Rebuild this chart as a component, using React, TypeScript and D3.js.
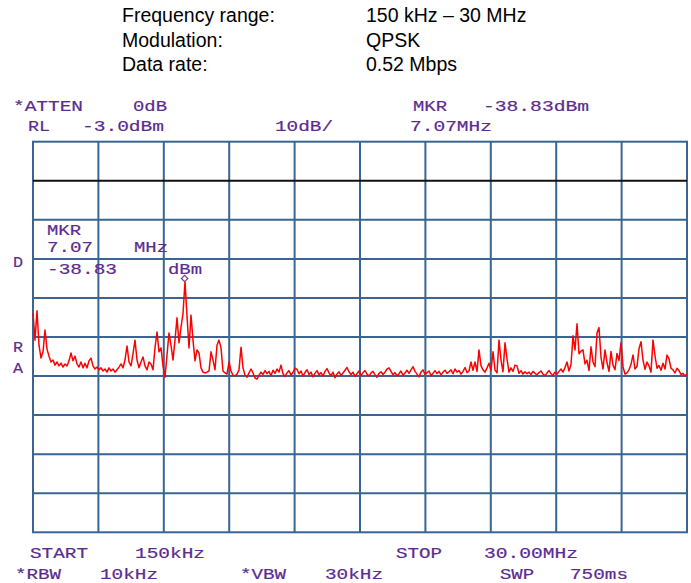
import React from "react";
import * as d3 from "d3";

// Sweep settings
const START_MHZ = 0.15;
const STOP_MHZ = 30;
const REF_LEVEL_DBM = -3;
const DB_PER_DIV = 10;
const DIVISIONS = 10;
const DISPLAY_LINE_DBM = -13;

// Marker readout
const MARKER_MHZ = 7.07;
const MARKER_DBM = -38.83;

// Header description lines
const infoLabels = ["Frequency range:", "Modulation:", "Data rate:"];
const infoValues = ["150 kHz \u2013 30 MHz", "QPSK", "0.52 Mbps"];

// Trace points (dBm), evenly spaced from START to STOP
const traceDbm = [
  -46.9, -53.8, -46.3, -55.1, -58.4, -56.8, -51.2, -56.1, -57.9, -59.4,
  -58.9, -60.2, -59.4, -60.4, -59.7, -60.7, -59.9, -60.4, -59.1, -57.1,
  -59.1, -57.9, -59.9, -60.7, -59.4, -60.9, -59.7, -60.9, -59.1, -58.4,
  -60.4, -61.2, -60.7, -61.4, -60.9, -61.7, -61.2, -62.0, -60.9, -61.7,
  -61.2, -62.0, -61.4, -60.7, -59.9, -60.9, -58.9, -55.3, -59.4, -60.4,
  -57.3, -53.8, -58.9, -60.9, -59.4, -58.1, -60.4, -61.4, -59.4, -59.9,
  -61.4, -55.8, -51.7, -56.8, -55.8, -60.4, -63.3, -57.6, -52.0, -55.1,
  -58.9, -53.8, -48.1, -54.5, -50.5, -47.0, -38.83, -47.6, -55.8, -47.4,
  -53.8, -59.1, -56.3, -57.1, -60.9, -62.0, -62.2, -62.0, -61.7, -56.8,
  -58.9, -61.4, -55.1, -53.8, -55.8, -61.7, -62.2, -62.5, -59.4, -61.7,
  -62.8, -63.0, -62.5, -61.4, -55.6, -60.9, -62.8, -63.3, -62.2, -61.2,
  -62.2, -63.5, -63.8, -62.8, -62.0, -62.6, -61.6, -62.4, -61.8, -62.9,
  -61.5, -62.3, -61.2, -62.0, -60.2, -62.4, -63.1, -62.2, -61.6, -62.8,
  -62.0, -61.0, -61.3, -62.4, -61.7, -63.0, -62.1, -61.4, -62.6, -62.0,
  -63.2, -62.3, -61.6, -62.7, -62.1, -63.0, -61.8, -61.1, -62.2, -62.9,
  -62.0, -63.4, -62.5, -61.9, -62.8, -62.2, -61.5, -60.8, -61.9, -62.6,
  -62.0, -63.1, -62.4, -61.7, -62.9, -62.1, -61.6, -62.5, -63.0, -62.2,
  -61.8, -62.7, -63.3, -62.3, -61.9, -62.6, -62.0, -61.2, -60.9, -61.8,
  -62.7, -62.1, -63.0, -62.4, -61.7, -62.8, -62.2, -61.5, -62.3, -61.4,
  -60.6, -61.8, -62.5, -63.2, -62.0, -61.4, -62.6, -62.1, -61.7, -62.9,
  -62.3, -61.6, -62.4, -61.8, -62.7, -62.0, -61.5, -62.3, -61.9, -61.4,
  -62.4, -61.2, -62.0, -61.6, -62.5, -61.8, -60.8, -62.1, -61.7, -59.4,
  -61.5, -59.4, -61.8, -56.3, -60.4, -61.4, -62.0, -60.9, -59.7, -61.5,
  -56.8, -61.4, -62.2, -53.8, -58.9, -61.9, -54.5, -58.6, -62.0, -60.9,
  -61.8, -60.2, -60.4, -62.3, -61.6, -62.5, -61.9, -62.4, -62.0, -62.6,
  -61.8, -62.3, -62.7, -62.1, -61.7, -62.5, -62.9, -62.2, -61.6, -62.4,
  -62.8, -62.0, -62.5, -61.8, -61.2, -62.0, -60.8, -59.4, -61.7, -60.1,
  -52.7, -56.3, -49.6, -57.3, -56.6, -56.3, -59.9, -58.9, -61.6, -55.5,
  -59.4, -60.6, -52.0, -50.6, -58.2, -61.2, -56.3, -59.6, -61.8, -56.7,
  -60.2, -61.4, -57.2, -59.0, -54.5, -60.6, -62.5, -62.2, -61.4, -60.0,
  -57.6, -61.2, -60.5, -56.0, -54.2, -58.9, -61.3, -59.4, -60.4, -62.0,
  -53.8, -57.8, -61.0, -60.3, -61.5, -59.7, -61.2, -57.6, -58.6, -61.0,
  -61.4, -62.2, -61.0, -61.6, -62.6, -62.3, -63.0, -62.4,
];

const W = 691;
const H = 583;
const PLOT = { left: 33, right: 687, top: 141.7, bottom: 532.3 };

const TEXT_COLOR = "#5b2c8f";
const GRID_COLOR = "#3a6593";
const TRACE_COLOR = "#ff0000";
const CHAR_ADV = 12;

function Mono({ x, y, text }: { x: number; y: number; text: string }) {
  return (
    <text
      x={x}
      y={y}
      fill={TEXT_COLOR}
      stroke={TEXT_COLOR}
      strokeWidth={0.2}
      fontFamily="'Liberation Mono', 'DejaVu Sans Mono', monospace"
      fontSize={15}
      textLength={text.length * CHAR_ADV - 2}
      lengthAdjust="spacingAndGlyphs"
    >
      {text}
    </text>
  );
}

export default function App() {
  const x = d3.scaleLinear().domain([START_MHZ, STOP_MHZ]).range([PLOT.left, PLOT.right]);
  const bottomLevel = REF_LEVEL_DBM - DB_PER_DIV * DIVISIONS;
  const y = d3.scaleLinear().domain([bottomLevel, REF_LEVEL_DBM]).range([PLOT.bottom, PLOT.top]);

  const step = (STOP_MHZ - START_MHZ) / (traceDbm.length - 1);
  const points: [number, number][] = traceDbm.map((v, i) => [START_MHZ + i * step, v]);
  const line = d3
    .line<[number, number]>()
    .x((d) => x(d[0]))
    .y((d) => y(d[1]));

  const vGrid = d3.range(1, DIVISIONS).map((i) => START_MHZ + (i * (STOP_MHZ - START_MHZ)) / DIVISIONS);
  const hGrid = d3.range(1, DIVISIONS).map((i) => REF_LEVEL_DBM - i * DB_PER_DIV);

  const mx = x(MARKER_MHZ);
  const my = y(MARKER_DBM);
  const dm = 3.2;

  return (
    <div style={{ position: "absolute", left: 0, top: 0 }}>
      <svg width={W} height={H} style={{ display: "block", background: "#fff" }}>
        {/* description block */}
        <g fontFamily="'Liberation Sans', Arial, sans-serif" fontSize={19.5} fill="#000">
          {infoLabels.map((t, i) => (
            <text key={"l" + i} x={122} y={22 + i * 24.5}>
              {t}
            </text>
          ))}
          {infoValues.map((t, i) => (
            <text key={"v" + i} x={366} y={22 + i * 24.5}>
              {t}
            </text>
          ))}
        </g>

        {/* analyzer header */}
        <Mono x={13} y={110.5} text="*ATTEN" />
        <Mono x={133} y={110.5} text="0dB" />
        <Mono x={413} y={110.5} text="MKR" />
        <Mono x={483} y={110.5} text="-38.83dBm" />
        <Mono x={28} y={130.5} text="RL" />
        <Mono x={82} y={130.5} text="-3.0dBm" />
        <Mono x={275} y={130.5} text="10dB/" />
        <Mono x={410} y={130.5} text="7.07MHz" />

        {/* graticule */}
        <g stroke={GRID_COLOR} strokeWidth={2} fill="none">
          {vGrid.map((f, i) => (
            <line key={"v" + i} x1={x(f)} x2={x(f)} y1={PLOT.top} y2={PLOT.bottom} />
          ))}
          {hGrid.map((d, i) =>
            d === DISPLAY_LINE_DBM ? null : (
              <line key={"h" + i} x1={PLOT.left} x2={PLOT.right} y1={y(d)} y2={y(d)} />
            )
          )}
          <rect
            x={PLOT.left}
            y={PLOT.top}
            width={PLOT.right - PLOT.left}
            height={PLOT.bottom - PLOT.top}
          />
        </g>
        <line
          x1={PLOT.left}
          x2={PLOT.right}
          y1={y(DISPLAY_LINE_DBM)}
          y2={y(DISPLAY_LINE_DBM)}
          stroke="#111"
          strokeWidth={2}
        />

        {/* side annotations */}
        <Mono x={13} y={266.5} text="D" />
        <Mono x={13} y={351.5} text="R" />
        <Mono x={13} y={372.5} text="A" />

        {/* marker readout inside graticule */}
        <Mono x={47} y={235} text="MKR" />
        <Mono x={47} y={251.5} text="7.07" />
        <Mono x={134} y={251.5} text="MHz" />
        <Mono x={47} y={274} text="-38.83" />
        <Mono x={168} y={274} text="dBm" />

        {/* trace */}
        <path d={line(points) || ""} fill="none" stroke={TRACE_COLOR} strokeWidth={1.5} strokeLinejoin="round" />

        {/* marker symbol */}
        <path
          d={`M${mx},${my} L${mx + dm},${my - dm} L${mx},${my - 2 * dm} L${mx - dm},${my - dm} Z`}
          fill="none"
          stroke="#8a3a8a"
          strokeWidth={1.2}
        />

        {/* footer */}
        <Mono x={30} y={557.5} text="START" />
        <Mono x={135} y={557.5} text="150kHz" />
        <Mono x={396} y={557.5} text="STOP" />
        <Mono x={484} y={557.5} text="30.00MHz" />
        <Mono x={15} y={578.5} text="*RBW" />
        <Mono x={100} y={578.5} text="10kHz" />
        <Mono x={240} y={578.5} text="*VBW" />
        <Mono x={325} y={578.5} text="30kHz" />
        <Mono x={500} y={578.5} text="SWP" />
        <Mono x={570} y={578.5} text="750ms" />
      </svg>
    </div>
  );
}
